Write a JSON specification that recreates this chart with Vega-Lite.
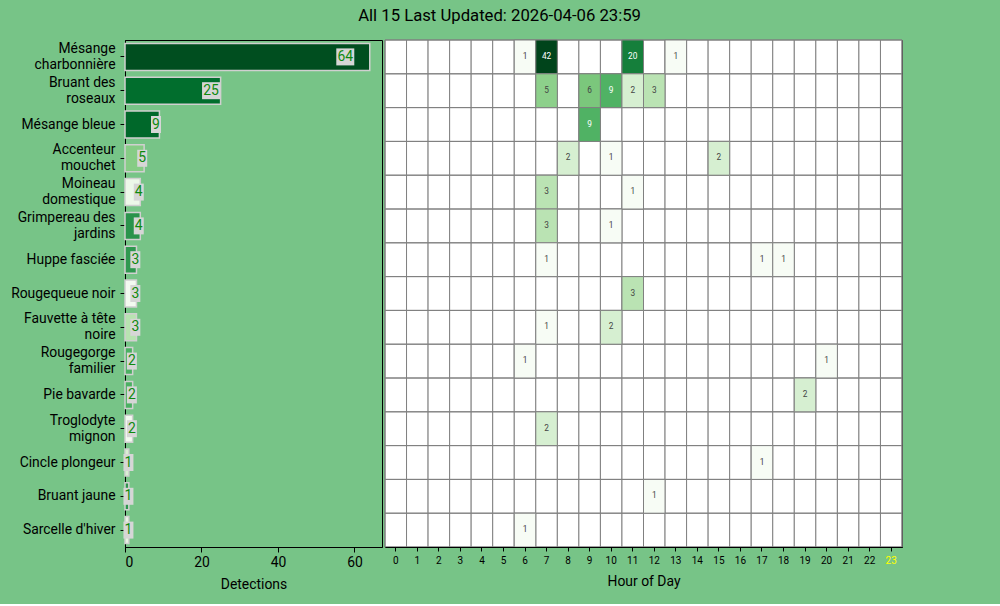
{
  "$schema": "https://vega.github.io/schema/vega-lite/v6.json",
  "background": "#77c487",
  "padding": {"left": 10, "top": 8, "right": 100, "bottom": 11},
  "title": {"text": "All 15 Last Updated: 2026-04-06 23:59", "font": "Roboto", "fontSize": 16.7, "fontWeight": "normal", "color": "black", "anchor": "middle", "dx": 43, "offset": 14},
  "datasets": {
    "totals": [
      {"species": "Mésange charbonnière", "count": 64, "score": 0.97},
      {"species": "Bruant des roseaux", "count": 25, "score": 0.87},
      {"species": "Mésange bleue", "count": 9, "score": 0.89},
      {"species": "Accenteur mouchet", "count": 5, "score": 0.45},
      {"species": "Moineau domestique", "count": 4, "score": 0.07},
      {"species": "Grimpereau des jardins", "count": 4, "score": 0.72},
      {"species": "Huppe fasciée", "count": 3, "score": 0.7},
      {"species": "Rougequeue noir", "count": 3, "score": 0.03},
      {"species": "Fauvette à tête noire", "count": 3, "score": 0.3},
      {"species": "Rougegorge familier", "count": 2, "score": 0.6},
      {"species": "Pie bavarde", "count": 2, "score": 0.6},
      {"species": "Troglodyte mignon", "count": 2, "score": 0.03},
      {"species": "Cincle plongeur", "count": 1, "score": 0.18},
      {"species": "Bruant jaune", "count": 1, "score": 0.71},
      {"species": "Sarcelle d'hiver", "count": 1, "score": 0.12}
    ],
    "cells": [
      {"species": "Mésange charbonnière", "hour": 6, "count": 1},
      {"species": "Mésange charbonnière", "hour": 7, "count": 42},
      {"species": "Mésange charbonnière", "hour": 11, "count": 20},
      {"species": "Mésange charbonnière", "hour": 13, "count": 1},
      {"species": "Bruant des roseaux", "hour": 7, "count": 5},
      {"species": "Bruant des roseaux", "hour": 9, "count": 6},
      {"species": "Bruant des roseaux", "hour": 10, "count": 9},
      {"species": "Bruant des roseaux", "hour": 11, "count": 2},
      {"species": "Bruant des roseaux", "hour": 12, "count": 3},
      {"species": "Mésange bleue", "hour": 9, "count": 9},
      {"species": "Accenteur mouchet", "hour": 8, "count": 2},
      {"species": "Accenteur mouchet", "hour": 10, "count": 1},
      {"species": "Accenteur mouchet", "hour": 15, "count": 2},
      {"species": "Moineau domestique", "hour": 7, "count": 3},
      {"species": "Moineau domestique", "hour": 11, "count": 1},
      {"species": "Grimpereau des jardins", "hour": 7, "count": 3},
      {"species": "Grimpereau des jardins", "hour": 10, "count": 1},
      {"species": "Huppe fasciée", "hour": 7, "count": 1},
      {"species": "Huppe fasciée", "hour": 17, "count": 1},
      {"species": "Huppe fasciée", "hour": 18, "count": 1},
      {"species": "Rougequeue noir", "hour": 11, "count": 3},
      {"species": "Fauvette à tête noire", "hour": 7, "count": 1},
      {"species": "Fauvette à tête noire", "hour": 10, "count": 2},
      {"species": "Rougegorge familier", "hour": 6, "count": 1},
      {"species": "Rougegorge familier", "hour": 20, "count": 1},
      {"species": "Pie bavarde", "hour": 19, "count": 2},
      {"species": "Troglodyte mignon", "hour": 7, "count": 2},
      {"species": "Cincle plongeur", "hour": 17, "count": 1},
      {"species": "Bruant jaune", "hour": 12, "count": 1},
      {"species": "Sarcelle d'hiver", "hour": 6, "count": 1}
    ],
    "hours": [
      {"hour": 0}, {"hour": 1}, {"hour": 2}, {"hour": 3}, {"hour": 4}, {"hour": 5},
      {"hour": 6}, {"hour": 7}, {"hour": 8}, {"hour": 9}, {"hour": 10}, {"hour": 11},
      {"hour": 12}, {"hour": 13}, {"hour": 14}, {"hour": 15}, {"hour": 16}, {"hour": 17},
      {"hour": 18}, {"hour": 19}, {"hour": 20}, {"hour": 21}, {"hour": 22}, {"hour": 23}
    ]
  },
  "spacing": 1,
  "resolve": {"scale": {"color": "independent"}},
  "hconcat": [
    {
      "width": 257,
      "height": 507,
      "data": {"name": "totals"},
      "layer": [
        {
          "mark": {"type": "bar", "stroke": "#d0d0d0", "strokeWidth": 1.5},
          "encoding": {
            "y": {
              "field": "species", "type": "nominal", "sort": null,
              "scale": {"paddingInner": 0.2, "paddingOuter": 0.1},
              "axis": {
                "title": null, "labelFontSize": 13.9, "labelLineHeight": 16, "tickSize": 5, "labelPadding": 5,
                "labelLimit": 220,
                "labelOffset": {"condition": {"test": "length(datum.value) > 16", "value": -8}, "value": 0},
                "labelExpr": "length(datum.label) > 16 ? [substring(datum.label, 0, lastindexof(substring(datum.label, 0, 17), ' ')), substring(datum.label, lastindexof(substring(datum.label, 0, 17), ' ') + 1)] : datum.label"
              }
            },
            "x": {
              "field": "count", "type": "quantitative",
              "scale": {"domain": [0, 67.2], "nice": false, "zero": true},
              "axis": {"title": "Detections", "values": [0, 20, 40, 60], "labelFontSize": 13.9, "titleFontSize": 13.9, "tickSize": 5, "labelPadding": 3, "titlePadding": 9}
            },
            "color": {
              "field": "score", "type": "quantitative", "legend": null,
              "scale": {
                "domain": [0, 0.125, 0.25, 0.375, 0.5, 0.625, 0.75, 0.875, 1],
                "range": ["#f7fcf5", "#e5f5e0", "#c7e9c0", "#a1d99b", "#74c476", "#41ab5d", "#238b45", "#006d2c", "#00441b"],
                "interpolate": "rgb"
              }
            }
          }
        },
        {
          "transform": [{"filter": "datum.count < 10"}],
          "mark": {"type": "bar", "color": "#d6d6d6", "height": 17, "xOffset": -5, "x2Offset": 5},
          "encoding": {
            "y": {"field": "species", "type": "nominal", "sort": null},
            "x": {"field": "count", "type": "quantitative", "scale": {"domain": [0, 74.667], "nice": false}, "axis": null},
            "x2": {"field": "count"}
          }
        },
        {
          "transform": [{"filter": "datum.count >= 10"}],
          "mark": {"type": "bar", "color": "#d6d6d6", "height": 17, "xOffset": -9, "x2Offset": 9},
          "encoding": {
            "y": {"field": "species", "type": "nominal", "sort": null},
            "x": {"field": "count", "type": "quantitative", "scale": {"domain": [0, 74.667], "nice": false}, "axis": null},
            "x2": {"field": "count"}
          }
        },
        {
          "mark": {"type": "text", "align": "center", "baseline": "middle", "fontSize": 13.9, "color": "#0e8a0e", "font": "Roboto"},
          "encoding": {
            "y": {"field": "species", "type": "nominal", "sort": null},
            "x": {"field": "count", "type": "quantitative", "scale": {"domain": [0, 74.667], "nice": false}, "axis": null},
            "text": {"field": "count", "type": "quantitative"}
          }
        }
      ],
      "resolve": {"scale": {"x": "independent"}}
    },
    {
      "width": 517,
      "height": 507,
      "view": {"fill": "white", "stroke": "black"},
      "layer": [
        {
          "data": {"name": "hours"},
          "mark": {"type": "rect", "fill": "white", "stroke": "#808080", "strokeWidth": 1},
          "encoding": {
            "x": {
              "field": "hour", "type": "ordinal", "sort": "ascending",
              "scale": {"paddingInner": 0, "paddingOuter": 0},
              "axis": {
                "title": "Hour of Day", "labelAngle": 0, "labelFontSize": 10, "titleFontSize": 13.9, "tickSize": 4, "labelPadding": 4, "titlePadding": 9,
                "labelColor": {"condition": {"test": "datum.value == 23", "value": "yellow"}, "value": "black"}
              }
            }
          }
        },
        {
          "data": {"name": "totals"},
          "mark": {"type": "rect", "filled": false, "stroke": "#808080", "strokeWidth": 1},
          "encoding": {
            "y": {"field": "species", "type": "nominal", "sort": null, "scale": {"paddingInner": 0, "paddingOuter": 0}, "axis": null}
          }
        },
        {
          "data": {"name": "cells"},
          "mark": {"type": "rect", "stroke": "#808080", "strokeWidth": 1},
          "encoding": {
            "x": {"field": "hour", "type": "ordinal"},
            "y": {"field": "species", "type": "nominal", "sort": null},
            "color": {
              "field": "count", "type": "quantitative", "legend": null,
              "scale": {
                "type": "log",
                "domain": [1, 1.5955, 2.5457, 4.0617, 6.4807, 10.340, 16.497, 26.322, 42],
                "range": ["#f7fcf5", "#e5f5e0", "#c7e9c0", "#a1d99b", "#74c476", "#41ab5d", "#238b45", "#006d2c", "#00441b"],
                "interpolate": "rgb"
              }
            }
          }
        },
        {
          "data": {"name": "cells"},
          "mark": {"type": "text", "fontSize": 8.3, "font": "Roboto", "baseline": "middle"},
          "encoding": {
            "x": {"field": "hour", "type": "ordinal"},
            "y": {"field": "species", "type": "nominal", "sort": null},
            "text": {"field": "count", "type": "quantitative"},
            "color": {"condition": {"test": "datum.count >= 9", "value": "white"}, "value": "#444444"}
          }
        }
      ]
    }
  ],
  "config": {
    "font": "Roboto",
    "view": {"stroke": "black", "strokeWidth": 1},
    "axis": {
      "labelFont": "Roboto", "titleFont": "Roboto", "labelColor": "black", "titleColor": "black",
      "titleFontWeight": "normal", "domainColor": "black", "tickColor": "black", "grid": false
    }
  }
}
